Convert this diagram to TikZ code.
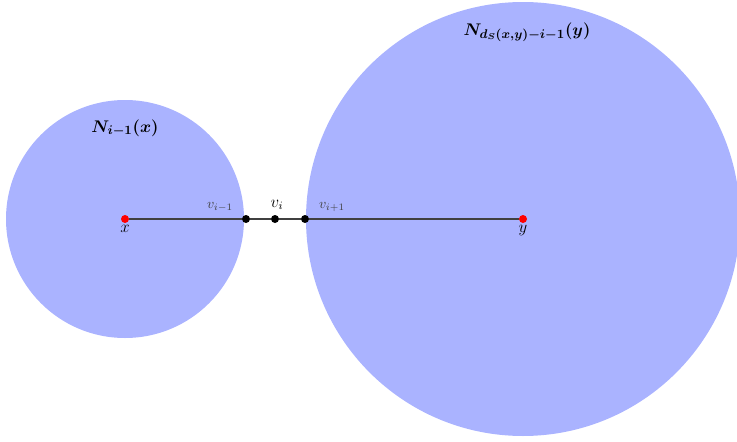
\documentclass[tikz,border=0pt]{standalone}
\usepackage{amsmath}
\usepackage{tikz}
\usetikzlibrary{positioning, calc}
\definecolor{ballblue}{RGB}{170,179,255}

\begin{document}
\begin{tikzpicture}[
    x=0.025cm, y=-0.025cm,
    ball/.style={fill=ballblue, draw=none},
    endpt/.style={circle, fill=red, minimum size=0.2cm, inner sep=0pt},
    pathpt/.style={circle, fill=black, minimum size=0.2cm, inner sep=0pt},
    plabel/.style={font=\large, inner sep=1pt},
    blabel/.style={font=\fontsize{13}{15}\selectfont\boldmath, inner sep=0pt},
    edge/.style={draw=black!75, line width=1.1pt}
]

\useasboundingbox (0,0) rectangle (737,441);

\def\yMid{219}

% the two balls
\fill[ball] (125,\yMid) circle (119);
\fill[ball] (523,\yMid) circle (217);

\node[blabel] (nx) at (125,128) {$N_{i-1}(x)$};
\node[blabel] (ny) at (527,32) {$N_{d_S(x,y)-i-1}(y)$};

% path vertices
\node[endpt] (x) at (125,\yMid) {};
\node[pathpt] (vprev) at (246,\yMid) {};
\node[pathpt] (vi) at (275,\yMid) {};
\node[pathpt] (vnext) at (305,\yMid) {};
\node[endpt] (y) at (523,\yMid) {};

\draw[edge] (x) -- (vprev);
\draw[edge] (vprev) -- (vi);
\draw[edge] (vi) -- (vnext);
\draw[edge] (vnext) -- (y);

\node[plabel, below=0pt of x] (xl) {$x$};
\node[plabel, below=0pt of y] (yl) {$y$};
\node[plabel, font=\normalsize, text=black!75] (lprev) at (220,207) {$v_{i-1}$};
\node[plabel] (li) at (277,205) {$v_i$};
\node[plabel, font=\normalsize, text=black!75] (lnext) at (332,207) {$v_{i+1}$};

\end{tikzpicture}
\end{document}
